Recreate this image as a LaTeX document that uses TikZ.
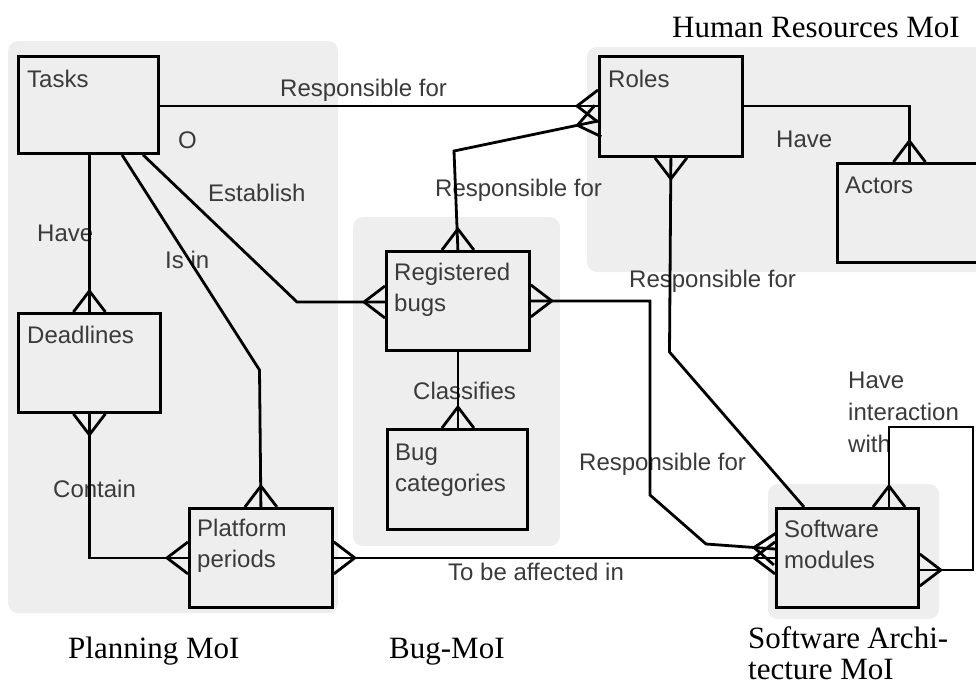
\documentclass[tikz,border=0pt]{standalone}
\usepackage{fontspec}
\setmainfont{Liberation Sans}
\newfontfamily\titlefont{Liberation Serif}
\usetikzlibrary{calc}

\definecolor{groupgray}{HTML}{EEEEEE}
\definecolor{textgray}{HTML}{3A3A3A}

\tikzset{
  group/.style={fill=groupgray, draw=none, rounded corners=10pt},
  entity/.style={draw=black, fill=groupgray, line width=2.8pt, anchor=north west,
    inner sep=0pt, minimum width=#1},
  entity/.default=142pt,
  conn/.style={line width=2.8pt, draw=black},
  etext/.style={anchor=base west, inner sep=0pt, text=textgray,
    font=\fontsize{24}{31}\selectfont},
  rtext/.style={etext},
  moititle/.style={anchor=base west, inner sep=0pt, text=black,
    font=\titlefont\fontsize{31}{31}\selectfont},
}

% crow's foot at point #1 on an entity border; #2 = direction of the line leaving the entity
\newcommand\crowfoot[2]{%
  \draw[conn] ($(#1)+(#2+90:16pt)$) -- ($(#1)+(#2:21pt)$) -- ($(#1)+(#2-90:16pt)$);}

\begin{document}
\begin{tikzpicture}[x=1pt, y=-1pt]
\useasboundingbox (0,0) rectangle (976,686);

% model-of-interest groups
\fill[group] (8,41) rectangle (338,613);
\fill[group] (353,217) rectangle (560,546);
\fill[group] (587,47) rectangle (996,272);
\fill[group] (768,484) rectangle (939,619);

% entities
\node[entity=140pt, minimum height=97pt] (tasks) at (17,55) {};
\node[entity=143pt, minimum height=100pt] (roles) at (598,55) {};
\node[entity=144pt, minimum height=99pt] (actors) at (836,162) {};
\node[entity=143pt, minimum height=99pt] (bugs) at (385,250) {};
\node[entity=142pt, minimum height=99pt] (deadlines) at (17,312) {};
\node[entity=143pt, minimum height=99pt] (platform) at (188,507) {};
\node[entity=140pt, minimum height=100pt] (cats) at (386,428) {};
\node[entity=142pt, minimum height=99pt] (sm) at (775,507) {};

% entity names
\node[etext] (tasks-t) at ($(tasks.north west)+(10,32)$) {Tasks};
\node[etext] (roles-t) at ($(roles.north west)+(10,32)$) {Roles};
\node[etext] (actors-t) at ($(actors.north west)+(9,31)$) {Actors};
\node[etext] (bugs-t) at ($(bugs.north west)+(9,30)$) {\parbox[t]{130pt}{Registered\\bugs}};
\node[etext] (deadlines-t) at ($(deadlines.north west)+(10,31)$) {Deadlines};
\node[etext] (platform-t) at ($(platform.north west)+(9,29)$) {\parbox[t]{130pt}{Platform\\periods}};
\node[etext] (cats-t) at ($(cats.north west)+(9,32)$) {\parbox[t]{130pt}{Bug\\categories}};
\node[etext] (sm-t) at ($(sm.north west)+(9,30)$) {\parbox[t]{130pt}{Software\\modules}};

% relationship names
\node[rtext] (r-resp1) at (280,96) {Responsible for};
\node[rtext] (r-o) at (178,148) {O};
\node[rtext] (r-est) at (208,201) {Establish};
\node[rtext] (r-have1) at (37,241) {Have};
\node[rtext] (r-isin) at (165,268) {Is in};
\node[rtext] (r-resp2) at (435,196) {Responsible for};
\node[rtext] (r-have2) at (776,147) {Have};
\node[rtext] (r-resp3) at (629,287) {Responsible for};
\node[rtext] (r-class) at (413,399) {Classifies};
\node[rtext] (r-contain) at (53,497) {Contain};
\node[rtext] (r-resp4) at (579,470) {Responsible for};
\node[rtext] (r-affect) at (448,580) {To be affected in};
\node[rtext] (r-inter) at (848,388) {\fontsize{24}{32}\selectfont\parbox[t]{130pt}{Have\\interaction\\with}};

% group titles
\node[moititle] (t-hr) at (672,37) {Human Resources MoI};
\node[moititle] (t-plan) at (68,658) {Planning MoI};
\node[moititle] (t-bug) at (389,658) {Bug-MoI};
\node[moititle] (t-sa) at (748,648) {\parbox[t]{200pt}{Software Archi-\\tecture MoI}};

% Tasks -- Roles
\coordinate (rolesIn1) at ($(roles.north west)+(0,51)$);
\draw[conn] (tasks.east |- rolesIn1) -- (rolesIn1);
\crowfoot{rolesIn1}{180}

% Registered bugs -- Roles
\coordinate (bugsUp) at (454,151);
\coordinate (rolesIn2) at ($(roles.north west)+(0,66)$);
\draw[conn] (bugs.north) -- (bugsUp) -- (rolesIn2);
\crowfoot{rolesIn2}{191.8}
\crowfoot{bugs.north}{90}

% Tasks -- Deadlines
\draw[conn] (tasks.south -| deadlines.north) -- (deadlines.north);
\crowfoot{deadlines.north}{90}

% Tasks -- Platform periods
\coordinate (tasksOut2) at ($(tasks.south west)+(105,0)$);
\coordinate (isinBend) at (259.5,370);
\draw[conn] (tasksOut2) -- (isinBend) -- (platform.north);
\crowfoot{platform.north}{90}

% Tasks -- Registered bugs
\coordinate (tasksOut3) at ($(tasks.south west)+(126,0)$);
\coordinate (bugsIn) at ($(bugs.north west)+(0,52)$);
\coordinate (estBend) at (297,302);
\draw[conn] (tasksOut3) -- (estBend) -- (bugsIn);
\crowfoot{bugsIn}{180}

% Deadlines -- Platform periods
\draw[conn] (deadlines.south) -- (deadlines.south |- platform.west) -- (platform.west);
\crowfoot{deadlines.south}{270}
\crowfoot{platform.west}{180}

% Platform periods -- Software modules
\draw[conn] (platform.east) -- (sm.west);
\crowfoot{platform.east}{0}
\crowfoot{sm.west}{180}

% Registered bugs -- Software modules
\coordinate (bsDown) at (650,495);
\coordinate (bsSlant) at (706,544);
\coordinate (smIn) at ($(sm.north west)+(0,42)$);
\draw[conn] (bugs.east) -- (bugs.east -| bsDown) -- (bsDown) -- (bsSlant) -- (smIn);
\crowfoot{bugs.east}{0}
\crowfoot{smIn}{175.9}

% Registered bugs -- Bug categories
\draw[conn] (bugs.south) -- (bugs.south |- cats.north);
\crowfoot{bugs.south |- cats.north}{90}

% Roles -- Actors
\coordinate (rolesOut) at ($(roles.north east)+(0,51)$);
\draw[conn] (rolesOut) -- (rolesOut -| actors.north) -- (actors.north);
\crowfoot{actors.north}{90}

% Roles -- Software modules
\coordinate (rsBend) at (669.5,352);
\coordinate (smTop1) at ($(sm.north west)+(29,0)$);
\draw[conn] (roles.south) -- (rsBend) -- (smTop1);
\crowfoot{roles.south}{270}

% Software modules -- itself
\coordinate (smTop2) at ($(sm.north west)+(114,0)$);
\coordinate (smRight) at ($(sm.north east)+(0,63)$);
\coordinate (loopCorner) at (973,427);
\draw[conn] (smTop2) -- (smTop2 |- loopCorner) -- (loopCorner) -- (loopCorner |- smRight) -- (smRight);
\crowfoot{smTop2}{90}
\crowfoot{smRight}{0}
\end{tikzpicture}
\end{document}
